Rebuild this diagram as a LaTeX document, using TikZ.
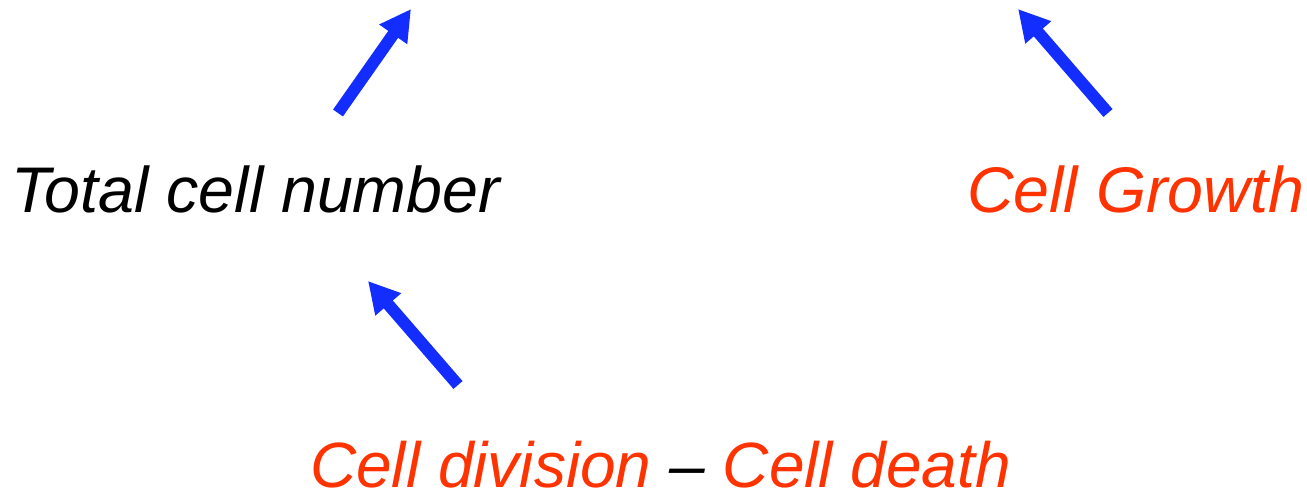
\documentclass[tikz,border=0pt]{standalone}
\usepackage{fontspec}
\setmainfont{Liberation Sans}
\usetikzlibrary{arrows.meta}
\definecolor{arrowblue}{RGB}{20,45,255}
\definecolor{termred}{RGB}{255,51,0}
\begin{document}
\begin{tikzpicture}[x=1pt,y=-1pt,
  label/.style={inner sep=0pt,anchor=base west,font=\fontsize{64.5}{70}\selectfont\itshape},
  bluearrow/.style={draw=arrowblue,line width=12pt,-{Triangle[length=31pt,width=32pt]}}]
  \useasboundingbox (0,0) rectangle (1307,494);
  % quantities
  \node[label] (total) at (11,213) {Total cell number};
  \node[label,text=termred] (growth) at (967,213) {Cell Growth};
  \node[label,font=\fontsize{64}{70}\selectfont\itshape] (divdeath) at (310,487) {\textcolor{termred}{Cell division} -- \textcolor{termred}{Cell death}};
  % arrow end points
  \coordinate (a1s) at (338,113);
  \coordinate (a1e) at (411,9);
  \coordinate (a2s) at (1108,113);
  \coordinate (a2e) at (1018,9);
  \coordinate (a3s) at (458,385);
  \coordinate (a3e) at (368,281);
  % arrows
  \draw[bluearrow] (a1s) -- (a1e);
  \draw[bluearrow] (a2s) -- (a2e);
  \draw[bluearrow] (a3s) -- (a3e);
\end{tikzpicture}
\end{document}
